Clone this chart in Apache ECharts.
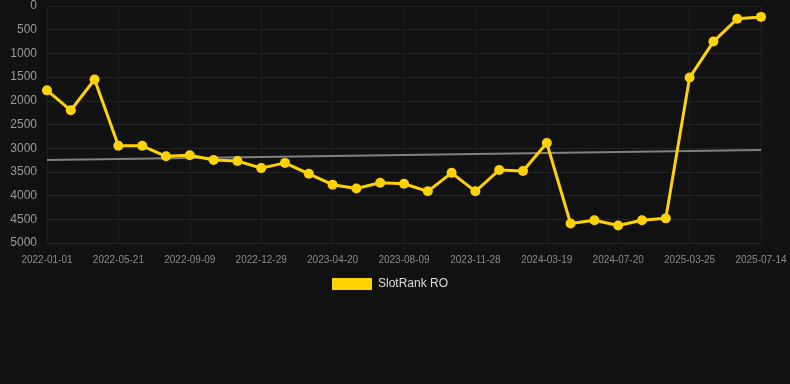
<!DOCTYPE html>
<html><head><meta charset="utf-8">
<script src="https://cdn.jsdelivr.net/npm/echarts@6/dist/echarts.min.js"></script>
<style>html,body{margin:0;padding:0;background:#111111;}#c{width:790px;height:384px;}</style>
</head><body><div id="c"></div>
<script>
const categories = ['2022-01-01','2022-02-16','2022-04-04','2022-05-21','2022-06-27','2022-08-03','2022-09-09','2022-10-16','2022-11-22','2022-12-29','2023-02-05','2023-03-14','2023-04-20','2023-05-27','2023-07-03','2023-08-09','2023-09-14','2023-10-22','2023-11-28','2024-01-04','2024-02-10','2024-03-19','2024-04-30','2024-06-10','2024-07-20','2024-10-01','2024-12-20','2025-03-25','2025-04-30','2025-06-07','2025-07-14'];
const slotRank = [1780,2200,1550,2950,2950,3170,3150,3250,3270,3420,3310,3540,3770,3850,3730,3750,3910,3520,3910,3460,3480,2890,4590,4520,4630,4520,4480,1510,750,270,230];
const trendEnds = [3250, 3040];
const yTicks = [0,500,1000,1500,2000,2500,3000,3500,4000,4500,5000];

const trend = categories.map((c,i)=> i===0 ? trendEnds[0] : (i===categories.length-1 ? trendEnds[1] : null));

const chart = echarts.init(document.getElementById('c'));
chart.setOption({
  backgroundColor:'#111111',
  animation:false,
  grid:{left:47,right:29,top:6,bottom:141,containLabel:false},
  legend:{
    data:['SlotRank RO'],
    top:278,left:332,
    itemWidth:40,itemHeight:12,itemGap:10,
    icon:'rect',padding:0,
    textStyle:{color:'#dddddd',fontSize:12,padding:[0,0,0,1],fontFamily:'Arial, Liberation Sans, sans-serif'}
  },
  xAxis:{
    type:'category',data:categories,boundaryGap:false,
    axisLine:{show:false},axisTick:{show:false},
    axisLabel:{interval:2,color:'#8a8a8a',fontSize:10,margin:12,fontFamily:'Arial, Liberation Sans, sans-serif'},
    splitLine:{show:true,interval:2,lineStyle:{color:'#1e1e1e',width:1}}
  },
  yAxis:{
    type:'value',inverse:true,min:yTicks[0],max:yTicks[yTicks.length-1],interval:500,
    axisLine:{show:false},axisTick:{show:false},
    axisLabel:{color:'#9a9a9a',fontSize:12,margin:10,formatter:(v)=>String(v),fontFamily:'Arial, Liberation Sans, sans-serif'},
    splitLine:{lineStyle:{color:'#222222',width:1}}
  },
  series:[
    {name:'trend',type:'line',data:trend,connectNulls:true,symbol:'none',silent:true,
     lineStyle:{color:'#808080',width:2},z:1},
    {name:'SlotRank RO',type:'line',data:slotRank,symbol:'circle',symbolSize:10,
     itemStyle:{color:'#FFD200'},lineStyle:{color:'#FFD200',width:3},z:2}
  ]
});
</script></body></html>
